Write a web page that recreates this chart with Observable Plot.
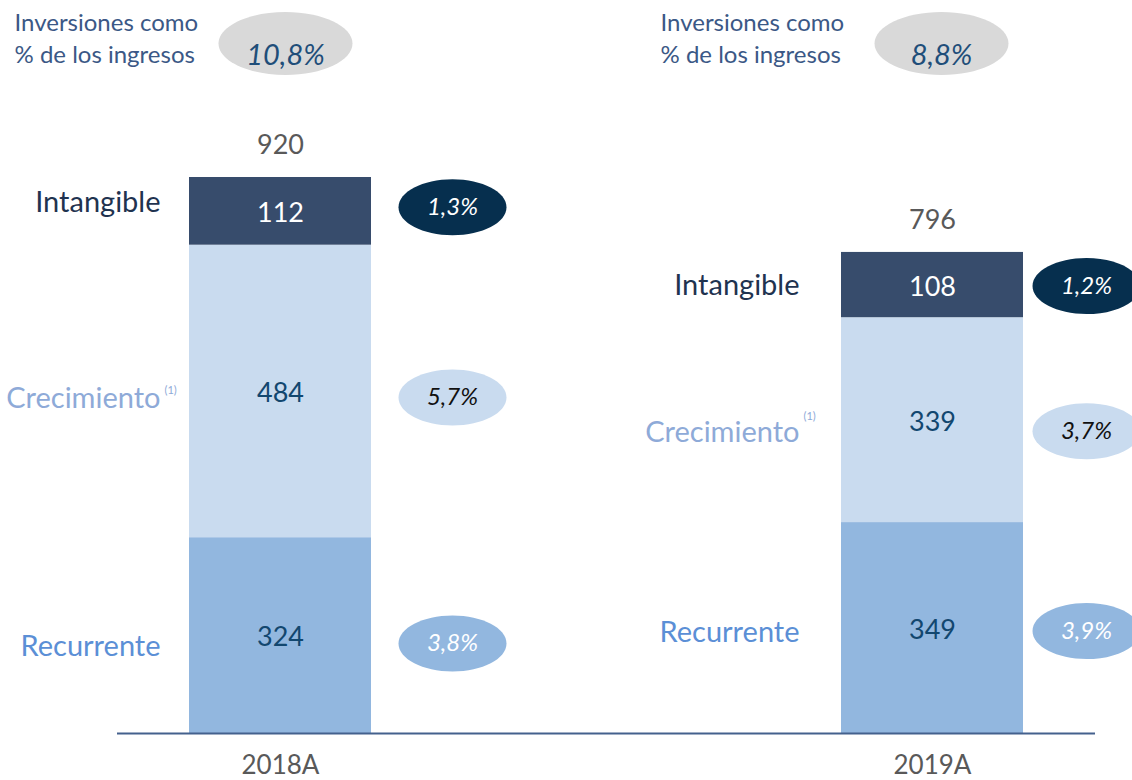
<!DOCTYPE html>
<html>
<head>
<meta charset="utf-8">
<script src="https://cdn.jsdelivr.net/npm/d3@7"></script>
<script src="https://cdn.jsdelivr.net/npm/@observablehq/plot@0.6"></script>
<style>
  html, body { margin: 0; padding: 0; background: #ffffff; }
  #chart svg { display: block; }
</style>
</head>
<body>
<div id="chart"></div>
<script>
// ---- Data ----
const years = ["2018A", "2019A"];
const series = ["Recurrente", "Crecimiento", "Intangible"];
const recurrente = [324, 349];
const crecimiento = [484, 339];
const intangible = [112, 108];
const totals = [920, 796];
const pctRecurrente = ["3,8%", "3,9%"];
const pctCrecimiento = ["5,7%", "3,7%"];
const pctIntangible = ["1,3%", "1,2%"];
const pctIngresos = ["10,8%", "8,8%"];
const headerText = "Inversiones como\n% de los ingresos";
const footnote = "(1)";

// ---- Build table ----
const valuesBySeries = { Recurrente: recurrente, Crecimiento: crecimiento, Intangible: intangible };
const pctBySeries = { Recurrente: pctRecurrente, Crecimiento: pctCrecimiento, Intangible: pctIntangible };
const rows = years.flatMap((year, i) => {
  let cum = 0;
  return series.map(s => {
    const v = valuesBySeries[s][i];
    const r = { year, series: s, value: v, y1: cum, y2: cum + v, mid: cum + v / 2, pct: pctBySeries[s][i] };
    cum += v;
    return r;
  });
});
const totalRows = years.map((year, i) => ({ year, total: totals[i], pct: pctIngresos[i] }));

// ---- Styles ----
const style = {
  Intangible:  { bar: "#374c6c", value: "#ffffff", label: "#1f3350", ell: "#062f4e", pctText: "#ffffff" },
  Crecimiento: { bar: "#c9dbef", value: "#12476f", label: "#8eaad8", ell: "#c9dbef", pctText: "#111111" },
  Recurrente:  { bar: "#92b7df", value: "#12476f", label: "#5b8fd6", ell: "#92b7df", pctText: "#ffffff" }
};
const yearLayout = {
  "2018A": { labelDx: -120, ellDx: 172, headDx: -266, headEllDx: 5, supDy: -8,
             labelDy: { Intangible: -9, Crecimiento: 7, Recurrente: 11 },
             ellDy:   { Intangible: -4, Crecimiento: 6, Recurrente: 8 } },
  "2019A": { labelDx: -133, ellDx: 154, headDx: -272, headEllDx: 9, supDy: -17,
             labelDy: { Intangible: 1, Crecimiento: 13, Recurrente: 5 },
             ellDy:   { Intangible: 1, Crecimiento: 11, Recurrente: 3 } }
};

function ellipse(rx, ry) {
  const k = 0.5522848;
  return {
    draw(c) {
      c.moveTo(rx, 0);
      c.bezierCurveTo(rx, ry * k, rx * k, ry, 0, ry);
      c.bezierCurveTo(-rx * k, ry, -rx, ry * k, -rx, 0);
      c.bezierCurveTo(-rx, -ry * k, -rx * k, -ry, 0, -ry);
      c.bezierCurveTo(rx * k, -ry, rx, -ry * k, rx, 0);
      c.closePath();
    }
  };
}

const marks = [];
const marginTop = 177;

// bars
for (const s of series) {
  marks.push(Plot.barY(rows.filter(d => d.series === s), {
    x: "year", y1: "y1", y2: "y2", fill: style[s].bar
  }));
}
// baseline
marks.push(Plot.ruleY([0], { stroke: "#44618d", strokeWidth: 2 }));

// value labels inside bars
for (const s of series) {
  marks.push(Plot.text(rows.filter(d => d.series === s), {
    x: "year", y: "mid", text: d => String(d.value), dy: 2,
    fill: style[s].value, fontSize: 27
  }));
}

// totals
marks.push(Plot.text(totalRows, {
  x: "year", y: "total", text: d => String(d.total), dy: -32,
  fill: "#595959", fontSize: 27
}));

// per-year side labels and ellipses
for (const year of years) {
  const L = yearLayout[year];
  for (const s of series) {
    const data = rows.filter(d => d.year === year && d.series === s);
    const st = style[s];
    marks.push(Plot.text(data, {
      x: "year", y: "mid", text: "series", textAnchor: "end",
      dx: L.labelDx, dy: L.labelDy[s], fill: st.label, fontSize: 29
    }));
    if (s === "Crecimiento") {
      marks.push(Plot.text(data, {
        x: "year", y: "mid", text: () => footnote, textAnchor: "start",
        dx: L.labelDx + 4, dy: L.labelDy[s] + L.supDy, fill: st.label, fontSize: 11
      }));
    }
    marks.push(Plot.dot(data, {
      x: "year", y: "mid", dx: L.ellDx, dy: L.ellDy[s],
      symbol: ellipse(54, 28), fill: st.ell, stroke: "none"
    }));
    marks.push(Plot.text(data, {
      x: "year", y: "mid", text: "pct", dx: L.ellDx, dy: L.ellDy[s],
      fill: st.pctText, fontSize: 24, fontStyle: "italic"
    }));
  }
  // header
  const hd = totalRows.filter(d => d.year === year);
  marks.push(Plot.text(hd, {
    x: "year", frameAnchor: "top", text: () => headerText, textAnchor: "start", lineAnchor: "top",
    dx: L.headDx, dy: 7 - marginTop, lineHeight: 1.35, fill: "#3b5886", fontSize: 24
  }));
  marks.push(Plot.dot(hd, {
    x: "year", frameAnchor: "top", dx: L.headEllDx, dy: 43 - marginTop,
    symbol: ellipse(67, 31.5), fill: "#d9d9d9", stroke: "none"
  }));
  marks.push(Plot.text(hd, {
    x: "year", frameAnchor: "top", text: "pct", dx: L.headEllDx, dy: 44 - marginTop,
    fill: "#1f4e79", fontSize: 29, fontStyle: "italic"
  }));
}

marks.push(Plot.axisX({ tickSize: 0, tickPadding: 22, fontSize: 26, color: "#595959", label: null }));

const chart = Plot.plot({
  width: 1132,
  height: 780,
  marginLeft: 117,
  marginRight: 37,
  marginTop: marginTop,
  marginBottom: 47,
  style: { fontFamily: "Lato, 'Open Sans', sans-serif", background: "#ffffff", overflow: "visible" },
  x: { domain: years, paddingInner: 0.7213, paddingOuter: 0.11, label: null },
  y: { domain: [0, 920], axis: null },
  marks
});
document.getElementById("chart").appendChild(chart);
</script>
</body>
</html>
